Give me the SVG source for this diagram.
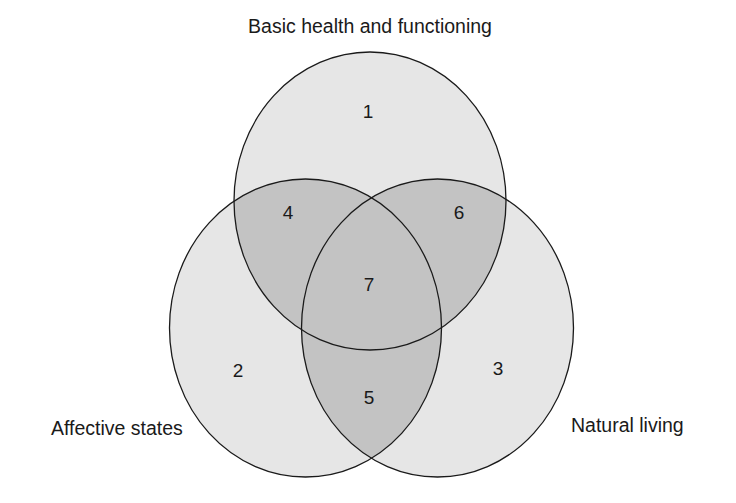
<svg xmlns="http://www.w3.org/2000/svg" xmlns:xlink="http://www.w3.org/1999/xlink" width="736" height="503" viewBox="0 0 736 503">
<style>
.base{fill:#e6e6e6;stroke:none}
.ov{fill:#c3c3c3;stroke:none}
.edge{fill:none;stroke:#1a1a1a;stroke-width:1.3}
text{font-family:"Liberation Sans",Arial,sans-serif;fill:#1a1a1a}
.lbl{font-size:19.5px}
.num{font-size:19px;text-anchor:middle}
</style>
<defs>
<ellipse id="eTop" cx="370" cy="201" rx="136" ry="149"/>
<ellipse id="eLeft" cx="305.5" cy="328" rx="136" ry="149"/>
<ellipse id="eRight" cx="437.5" cy="328" rx="136" ry="149"/>
<clipPath id="cTop"><use xlink:href="#eTop"/></clipPath>
<clipPath id="cLeft"><use xlink:href="#eLeft"/></clipPath>
</defs>
<rect width="736" height="503" fill="#ffffff"/>
<g id="fills">
<use xlink:href="#eTop" class="base"/>
<use xlink:href="#eLeft" class="base"/>
<use xlink:href="#eRight" class="base"/>
<use xlink:href="#eLeft" class="ov" clip-path="url(#cTop)"/>
<use xlink:href="#eRight" class="ov" clip-path="url(#cTop)"/>
<use xlink:href="#eRight" class="ov" clip-path="url(#cLeft)"/>
</g>
<g id="basic-health">
<use xlink:href="#eTop" class="edge"/>
<text class="lbl" x="370" y="33" text-anchor="middle">Basic health and functioning</text>
</g>
<g id="affective-states">
<use xlink:href="#eLeft" class="edge"/>
<text class="lbl" x="51" y="435">Affective states</text>
</g>
<g id="natural-living">
<use xlink:href="#eRight" class="edge"/>
<text class="lbl" x="571" y="432">Natural living</text>
</g>
<g id="regions">
<text class="num" x="368" y="118">1</text>
<text class="num" x="238" y="377">2</text>
<text class="num" x="498" y="375">3</text>
<text class="num" x="288" y="219">4</text>
<text class="num" x="369" y="404">5</text>
<text class="num" x="459" y="219">6</text>
<text class="num" x="369" y="291">7</text>
</g>
<g id="connectors"></g>
</svg>
